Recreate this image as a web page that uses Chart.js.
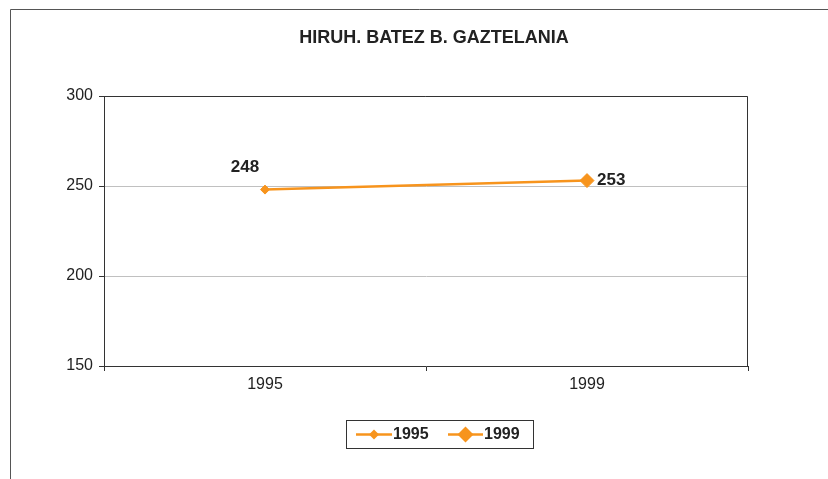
<!DOCTYPE html>
<html>
<head>
<meta charset="utf-8">
<script src="https://cdn.jsdelivr.net/npm/chart.js@4"></script>
<style>
  html, body { margin: 0; padding: 0; background: #fff; }
  #wrap { width: 828px; height: 479px; }
</style>
</head>
<body>
<div id="wrap"><canvas id="chart1" width="828" height="479"></canvas></div>
<script>
const chartTitle = 'HIRUH. BATEZ B. GAZTELANIA';
const years = ['1995', '1999'];
const values = [248, 253];
const legendLabels = ['1995', '1999'];
const yTicks = [150, 200, 250, 300];

const orange = '#f7941d';
const dark = '#333333';
const fontFam = '"Liberation Sans", Arial, sans-serif';

function diamond(ctx, x, y, r) {
    ctx.beginPath();
    ctx.moveTo(x, y - r);
    ctx.lineTo(x + r, y);
    ctx.lineTo(x, y + r);
    ctx.lineTo(x - r, y);
    ctx.closePath();
    ctx.fill();
}

const decor = {
    id: 'decor',
    beforeDraw(chart) {
        const ctx = chart.ctx;
        ctx.save();
        ctx.strokeStyle = '#555';
        ctx.lineWidth = 1;
        ctx.beginPath();
        ctx.moveTo(10.5, 479);
        ctx.lineTo(10.5, 9.5);
        ctx.lineTo(828, 9.5);
        ctx.stroke();
        ctx.restore();
    },
    afterDatasetsDraw(chart) {
        const ctx = chart.ctx;
        const a = chart.chartArea;
        ctx.save();
        // plot frame
        ctx.strokeStyle = dark;
        ctx.lineWidth = 1;
        ctx.beginPath();
        ctx.moveTo(a.left, a.top + 0.5);
        ctx.lineTo(a.right - 0.5, a.top + 0.5);
        ctx.lineTo(a.right - 0.5, a.bottom);
        ctx.stroke();

        // title
        ctx.fillStyle = '#222';
        ctx.font = 'bold 18px ' + fontFam;
        ctx.textAlign = 'center';
        ctx.textBaseline = 'middle';
        ctx.fillText(chartTitle, 434, 38);

        // value labels
        const pts = chart.getDatasetMeta(0).data;
        ctx.font = 'bold 17px ' + fontFam;
        ctx.fillText(String(values[0]), pts[0].x - 20, pts[0].y - 22);
        ctx.textAlign = 'left';
        ctx.fillText(String(values[1]), pts[1].x + 10, pts[1].y);

        // legend
        const lx = 346, ly = 420, lw = 187, lh = 28;
        ctx.strokeStyle = dark;
        ctx.strokeRect(lx + 0.5, ly + 0.5, lw, lh);
        const cy = ly + lh / 2 + 0.5;
        const items = [
            { x0: 356, x1: 392, r: 5, tx: 393 },
            { x0: 448, x1: 483, r: 8, tx: 484 }
        ];
        ctx.font = 'bold 16px ' + fontFam;
        ctx.textAlign = 'left';
        items.forEach((it, i) => {
            ctx.strokeStyle = orange;
            ctx.fillStyle = orange;
            ctx.lineWidth = 2.5;
            ctx.beginPath();
            ctx.moveTo(it.x0, cy);
            ctx.lineTo(it.x1, cy);
            ctx.stroke();
            diamond(ctx, (it.x0 + it.x1) / 2, cy, it.r);
            ctx.fillStyle = '#222';
            ctx.fillText(legendLabels[i], it.tx, cy);
        });
        ctx.restore();
    }
};

const ctx1 = document.getElementById('chart1').getContext('2d');
new Chart(ctx1, {
    type: 'line',
    data: {
        labels: years,
        datasets: [{
            label: 'HIRUH. BATEZ B. GAZTELANIA',
            data: values,
            borderColor: orange,
            backgroundColor: orange,
            borderWidth: 2.5,
            pointStyle: 'rectRot',
            pointRadius: [4.5, 7],
            pointBorderWidth: 1,
            pointBorderColor: orange,
            tension: 0
        }]
    },
    options: {
        responsive: false,
        animation: false,
        layout: { padding: { left: 0, top: 96, right: 80, bottom: 0 } },
        plugins: {
            legend: { display: false },
            title: { display: false },
            tooltip: { enabled: false }
        },
        scales: {
            x: {
                offset: true,
                grid: { offset: true, drawOnChartArea: false, tickLength: 5, tickColor: dark },
                border: { color: dark, width: 1 },
                ticks: { color: '#222', font: { family: fontFam, size: 16 }, padding: 4 },
                afterFit(scale) { scale.height = 113; }
            },
            y: {
                min: 150,
                max: 300,
                afterBuildTicks(scale) { scale.ticks = yTicks.map(v => ({ value: v })); },
                grid: { color: '#c0c0c0', tickLength: 5, tickColor: dark },
                border: { color: dark, width: 1 },
                ticks: { color: '#222', font: { family: fontFam, size: 16 }, padding: 6 },
                afterFit(scale) { scale.width = 104; }
            }
        }
    },
    plugins: [decor]
});
</script>
</body>
</html>
